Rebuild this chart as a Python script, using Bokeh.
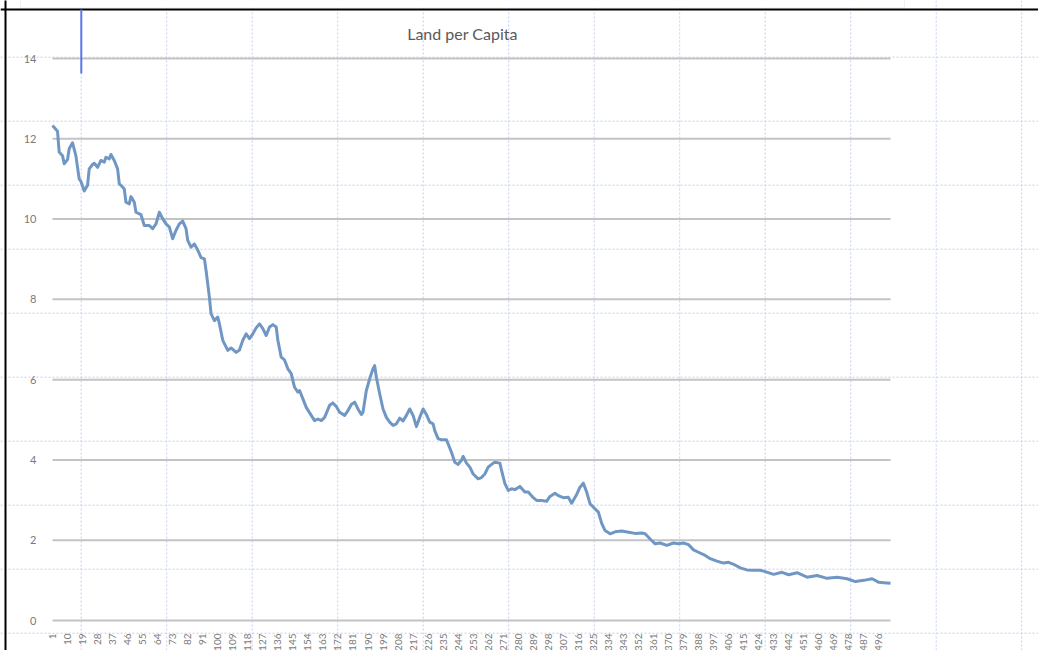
import math
from bokeh.plotting import figure
from bokeh.models import Range1d, FixedTicker, Span, BoxAnnotation, Label, ColumnDataSource
from bokeh.embed import file_html
from bokeh.resources import INLINE

# ---- data ----
idx = [1, 4, 5, 7, 8, 10, 11, 13, 15, 17, 18, 20, 22, 23, 25, 26, 28, 30, 32, 33, 35, 36, 38, 40,
       41, 42, 44, 45, 47, 48, 50, 51, 54, 56, 59, 61, 63, 65, 67, 69, 71, 73, 75, 77, 79, 81, 82,
       84, 86, 88, 90, 92, 93, 95, 96, 98, 100, 101, 103, 106, 108, 111, 113, 115, 117, 119, 121,
       123, 125, 127, 129, 131, 133, 135, 136, 138, 140, 142, 144, 146, 148, 149, 151, 153, 156,
       158, 160, 162, 164, 167, 169, 171, 173, 176, 178, 180, 182, 184, 186, 187, 189, 191, 193,
       194, 195, 197, 199, 201, 203, 205, 207, 209, 211, 213, 215, 217, 219, 221, 223, 225, 227,
       229, 230, 232, 234, 237, 238, 240, 242, 244, 246, 247, 249, 251, 253, 256, 258, 260, 262,
       265, 266, 269, 270, 272, 274, 276, 278, 281, 284, 286, 289, 291, 294, 297, 299, 302, 304,
       307, 310, 312, 315, 317, 319, 321, 323, 326, 328, 330, 332, 335, 338, 342, 346, 350, 354,
       356, 359, 362, 365, 369, 373, 376, 379, 382, 385, 388, 392, 395, 399, 403, 406, 409, 413,
       417, 421, 425, 427, 433, 438, 442, 447, 453, 459, 465, 471, 477, 482, 487, 492, 496, 499, 503]
land = [12.33, 12.19, 11.67, 11.58, 11.38, 11.48, 11.75, 11.90, 11.58, 11.00, 10.94, 10.70, 10.84,
        11.25, 11.36, 11.39, 11.29, 11.46, 11.42, 11.54, 11.50, 11.61, 11.46, 11.25, 10.88, 10.84,
        10.75, 10.42, 10.38, 10.56, 10.42, 10.17, 10.11, 9.84, 9.84, 9.76, 9.88, 10.17, 10.01, 9.88,
        9.80, 9.51, 9.72, 9.88, 9.95, 9.76, 9.47, 9.30, 9.38, 9.23, 9.04, 9.01, 8.72, 8.05, 7.64,
        7.47, 7.56, 7.39, 6.98, 6.73, 6.79, 6.68, 6.74, 6.98, 7.14, 7.02, 7.14, 7.29, 7.39, 7.27,
        7.10, 7.31, 7.37, 7.31, 6.98, 6.56, 6.49, 6.27, 6.15, 5.81, 5.69, 5.73, 5.52, 5.31, 5.11,
        4.98, 5.02, 4.98, 5.06, 5.36, 5.42, 5.33, 5.19, 5.11, 5.23, 5.38, 5.44, 5.27, 5.13, 5.19,
        5.73, 6.02, 6.27, 6.35, 6.06, 5.65, 5.27, 5.06, 4.94, 4.86, 4.90, 5.04, 4.97, 5.11, 5.27,
        5.11, 4.83, 5.06, 5.27, 5.13, 4.94, 4.90, 4.73, 4.53, 4.50, 4.50, 4.40, 4.19, 3.94, 3.89,
        3.99, 4.09, 3.92, 3.82, 3.65, 3.53, 3.56, 3.65, 3.82, 3.92, 3.94, 3.92, 3.74, 3.41, 3.24,
        3.28, 3.26, 3.34, 3.20, 3.20, 3.06, 2.99, 2.99, 2.97, 3.09, 3.17, 3.11, 3.06, 3.07, 2.92,
        3.14, 3.32, 3.42, 3.20, 2.91, 2.78, 2.70, 2.42, 2.24, 2.16, 2.21, 2.23, 2.20, 2.17, 2.18,
        2.16, 2.03, 1.91, 1.93, 1.87, 1.93, 1.91, 1.93, 1.89, 1.76, 1.70, 1.62, 1.54, 1.48, 1.43,
        1.45, 1.40, 1.31, 1.26, 1.25, 1.25, 1.23, 1.15, 1.20, 1.14, 1.19, 1.08, 1.12, 1.05, 1.08,
        1.04, 0.97, 1.00, 1.04, 0.95, 0.94, 0.93]
n_categories = 503
x_ticks = list(range(1, 497, 9))
y_ticks = [0, 2, 4, 6, 8, 10, 12, 14]
title_text = "Land per Capita"

# ---- layout (canvas pixels) ----
W, H = 1038, 650
X_FIRST_PX, X_LAST_PX = 52, 890      # category 1 .. last
Y0_PX, YTOP_PX = 620, 58             # value 0 .. 14
SX = (X_LAST_PX - X_FIRST_PX) / (n_categories - 1)
SY = (Y0_PX - YTOP_PX) / (y_ticks[-1] - y_ticks[0])

x_start = 1 - X_FIRST_PX / SX
x_end = 1 + (W - X_FIRST_PX) / SX
y_start = -(H - Y0_PX) / SY
y_end = y_ticks[-1] + YTOP_PX / SY


def dx(px):
    return 1 + (px - X_FIRST_PX) / SX


def dy(py):
    return (Y0_PX - py) / SY


p = figure(width=W, height=H, x_range=Range1d(x_start, x_end), y_range=Range1d(y_start, y_end),
           output_backend="svg", toolbar_location=None, min_border=0,
           background_fill_color="white", border_fill_color="white")
p.outline_line_color = None
p.xgrid.visible = False
p.ygrid.visible = False

# spreadsheet cell grid in the background
sheet_color = "#c3cdf6"
for k in range(12):
    p.add_layout(Span(location=dx(80.7 + 85.5 * k), dimension="height", line_color=sheet_color,
                      line_width=1, line_dash="2 2", level="underlay"))
for k in range(10):
    p.add_layout(Span(location=dy(56.7 + 64 * k), dimension="width", line_color=sheet_color,
                      line_width=1, line_dash="2 2", level="underlay"))
# sheet frame: white bar at the top, black borders
p.add_layout(BoxAnnotation(left=dx(20), right=dx(904), top=dy(-2), bottom=dy(7.5),
                           fill_color="white", fill_alpha=1.0, line_color="#cfcfcf", line_width=1))
p.add_layout(Span(location=dy(9), dimension="width", line_color="black", line_width=2))
p.add_layout(BoxAnnotation(left=dx(4), right=dx(6), top=dy(-2), bottom=dy(652),
                           fill_color="black", fill_alpha=1.0, line_color=None))
p.add_layout(BoxAnnotation(left=dx(79.8), right=dx(81.8), top=dy(9), bottom=dy(73),
                           fill_color="#5a78ee", fill_alpha=1.0, line_color=None))

# value gridlines
p.segment(x0=idx[0], x1=n_categories, y0=y_ticks, y1=y_ticks, line_color="#c3c3c3", line_width=2)

# data line
src = ColumnDataSource(dict(idx=idx, land=land))
p.line(x="idx", y="land", source=src, line_color="#7097c4", line_width=3, line_join="round")

# axes
p.yaxis.fixed_location = 1
p.yaxis.ticker = FixedTicker(ticks=y_ticks)
p.yaxis.axis_line_color = None
p.yaxis.major_tick_line_color = None
p.yaxis.minor_tick_line_color = None
p.yaxis.major_label_standoff = 10
p.yaxis.major_label_text_color = "#7a7a7a"
p.yaxis.major_label_text_font = "Lato"
p.yaxis.major_label_text_font_size = "11px"

p.xaxis.fixed_location = 0
p.xaxis.ticker = FixedTicker(ticks=x_ticks)
p.xaxis.axis_line_color = None
p.xaxis.major_tick_line_color = None
p.xaxis.minor_tick_line_color = None
p.xaxis.major_label_orientation = math.pi / 2
p.xaxis.major_label_standoff = 7
p.xaxis.major_label_text_color = "#7a7a7a"
p.xaxis.major_label_text_font = "Lato"
p.xaxis.major_label_text_font_size = "10px"

p.add_layout(Label(x=dx(462), y=dy(33), text=title_text, text_align="center", text_baseline="middle",
                   text_font="Lato", text_font_size="16px", text_color="#595959"))

open("out.html", "w").write(file_html(p, INLINE))
